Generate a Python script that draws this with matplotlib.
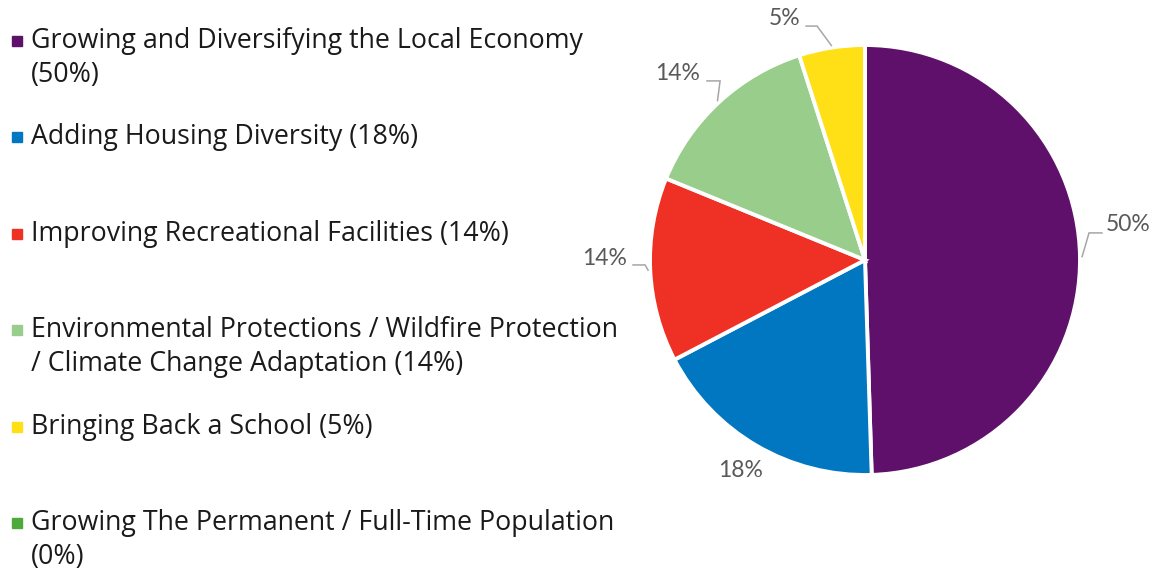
import matplotlib.pyplot as plt
import numpy as np

plt.rcParams['font.family'] = ['Lato', 'DejaVu Sans']

# Priority shares (percent)
categories = ["Growing and Diversifying the Local Economy",
              "Adding Housing Diversity",
              "Improving Recreational Facilities",
              "Environmental Protections / Wildfire Protection / Climate Change Adaptation",
              "Bringing Back a School",
              "Growing The Permanent / Full-Time Population"]
values = [50, 18, 14, 14, 5, 0]
legend_lines = [["Growing and Diversifying the Local Economy", "(50%)"],
                ["Adding Housing Diversity (18%)"],
                ["Improving Recreational Facilities (14%)"],
                ["Environmental Protections / Wildfire Protection",
                 "/ Climate Change Adaptation (14%)"],
                ["Bringing Back a School (5%)"],
                ["Growing The Permanent / Full-Time Population", "(0%)"]]
colors = ["#5F106A", "#0077C0", "#EE3124", "#98CD8C", "#FFE016", "#4DAA3A"]

W, H = 1160, 572
fig = plt.figure(figsize=(W / 100, H / 100), dpi=100)

# pie axes: centre (865, 260) px, radius 215 px
cx, cy, r = 865, 260, 215
ax = fig.add_axes([(cx - r) / W, (H - cy - r) / H, 2 * r / W, 2 * r / H])

pie_vals = [v for v in values if v > 0]
pie_cols = colors[:len(pie_vals)]
wedges, _ = ax.pie(pie_vals, colors=pie_cols, startangle=90, counterclock=False,
                   wedgeprops=dict(edgecolor="white", linewidth=2.8))
ax.set_xlim(-1, 1)
ax.set_ylim(-1, 1)
ax.set_aspect("equal")

# data-label placement: text x, y, alignment, leader start x, elbow x, leader y
label_layout = [
    (1.121, 0.163, "left", 1.102, 1.042, 0.126),
    (-0.577, -0.977, "center", None, None, None),
    (-1.107, 0.009, "right", -1.079, -1.023, -0.023),
    (-0.767, 0.867, "right", -0.735, -0.674, 0.833),
    (-0.302, 1.123, "right", -0.274, -0.223, 1.088),
]
for w, v, (tx, ty, ha, sx, ex, ly) in zip(wedges, pie_vals, label_layout):
    ax.text(tx, ty, f"{v}%", ha=ha, va="center", fontsize=16.5,
            color="#595959", clip_on=False)
    if sx is None:
        continue
    mid = np.deg2rad((w.theta1 + w.theta2) / 2)
    px, py = 1.01 * np.cos(mid), 1.01 * np.sin(mid)
    ax.plot([sx, ex, px], [ly, ly, py], color="#A6A6A6", lw=1.1,
            clip_on=False, solid_joinstyle="miter")

# legend on the left
for i, (lines, col) in enumerate(zip(legend_lines, colors)):
    y = 41 + i * 96.4
    fig.patches.append(plt.Rectangle((12 / W, 1 - (y + 5) / H), 10 / W, 10 / H,
                                     transform=fig.transFigure, color=col))
    for j, line in enumerate(lines):
        fig.text(31 / W, 1 - (y + j * 34) / H, line, fontsize=19.3,
                 family=["Open Sans", "DejaVu Sans"],
                 color="#1a1a1a", va="center", ha="left")

fig.savefig("out.png", dpi=100)
